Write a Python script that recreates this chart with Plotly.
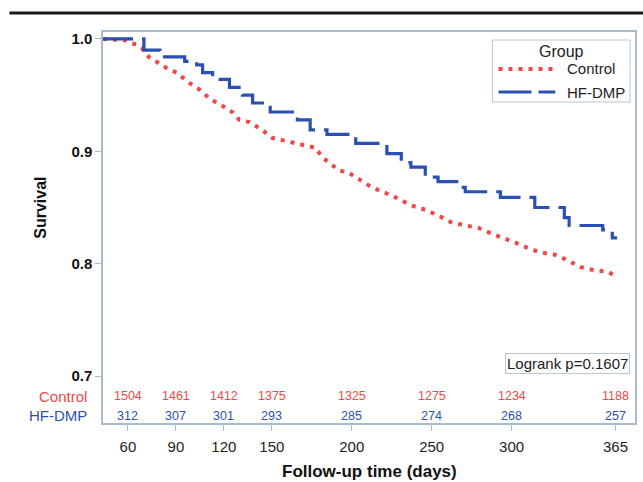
import plotly.graph_objects as go

# ---- data ----
control_days = [44.4, 58, 62.5, 65.6, 68.7, 73, 78.7, 84.3, 90.5, 97.3, 104.8, 111, 118.5, 125.3,
                129.7, 136, 144, 150.2, 156.5, 162.7, 169, 177.6, 181.3, 185.7, 192, 198, 206,
                212.5, 221, 229, 237, 246, 254, 262, 271, 279, 287, 293, 302, 310, 318, 327,
                335, 343, 352, 360, 366]
control_surv = [1.000, 0.999, 0.996, 0.995, 0.992, 0.984, 0.979, 0.974, 0.970, 0.962, 0.955, 0.947,
                0.941, 0.935, 0.928, 0.926, 0.919, 0.912, 0.910, 0.908, 0.906, 0.903, 0.895, 0.890,
                0.883, 0.881, 0.874, 0.868, 0.863, 0.858, 0.852, 0.848, 0.843, 0.837, 0.834, 0.832,
                0.827, 0.824, 0.819, 0.814, 0.810, 0.808, 0.803, 0.797, 0.794, 0.793, 0.788]

hf_days = [44.4, 70, 80, 95.5, 103, 106.7, 113, 123.5, 131.6, 138, 149, 166, 174, 184.5, 202.5,
           222, 231, 237, 246, 254, 268, 271, 293, 314.5, 333, 336, 357, 363, 366]
hf_surv = [1.000, 0.990, 0.984, 0.980, 0.977, 0.970, 0.964, 0.957, 0.950, 0.943, 0.935, 0.928,
           0.919, 0.915, 0.907, 0.898, 0.890, 0.886, 0.877, 0.873, 0.868, 0.864, 0.859, 0.850,
           0.841, 0.834, 0.830, 0.823, 0.823]

risk_days = [60, 90, 120, 150, 200, 250, 300, 365]
risk_control = [1504, 1461, 1412, 1375, 1325, 1275, 1234, 1188]
risk_hf = [312, 307, 301, 293, 285, 274, 268, 257]

y_ticks = [0.7, 0.8, 0.9, 1.0]
y_ticklabels = ["0.7", "0.8", "0.9", "1.0"]

group_names = ["Control", "HF-DMP"]

RED = "#f04848"
BLUE = "#2a50b4"
FONT = "Liberation Sans, Arial, sans-serif"
RED_DASH = "4px,6px"
BLUE_DASH = "30px,9px"
FRAME = "#a9bccb"

fig = go.Figure()
fig.add_trace(go.Scatter(x=control_days, y=control_surv, mode="lines", name=group_names[0],
                         line=dict(color=RED, width=4, dash=RED_DASH, shape="linear")))
fig.add_trace(go.Scatter(x=hf_days, y=hf_surv, mode="lines", name=group_names[1],
                         line=dict(color=BLUE, width=3.2, dash=BLUE_DASH, shape="hv")))

ann = []
for d, c, h in zip(risk_days, risk_control, risk_hf):
    ann.append(dict(x=d, y=0.682, xref="x", yref="y", text=str(c), showarrow=False,
                    font=dict(color=RED, size=12.5, family=FONT)))
    ann.append(dict(x=d, y=0.6645, xref="x", yref="y", text=str(h), showarrow=False,
                    font=dict(color=BLUE, size=12.5, family=FONT)))
ann.append(dict(x=-0.026, y=0.682, xref="paper", yref="y", text=group_names[0], showarrow=False,
                xanchor="right", font=dict(color=RED, size=15, family=FONT)))
ann.append(dict(x=-0.026, y=0.6645, xref="paper", yref="y", text=group_names[1], showarrow=False,
                xanchor="right", font=dict(color=BLUE, size=15, family=FONT)))
ann.append(dict(x=0.9906, y=0.153, xref="paper", yref="paper", text="Logrank p=0.1607",
                showarrow=False, xanchor="right", yanchor="middle",
                font=dict(color="#222", size=15, family=FONT),
                bordercolor="#b8c8d4", borderwidth=1, borderpad=1, bgcolor="white"))
ann.append(dict(x=0.5, y=-0.125, xref="paper", yref="paper", text="<b>Follow-up time (days)</b>",
                showarrow=False, xanchor="center", yanchor="middle",
                font=dict(color="#111", size=17, family=FONT)))
ann.append(dict(x=-0.118, y=0.85, xref="paper", yref="y", text="<b>Survival</b>", textangle=-90,
                showarrow=False, xanchor="center", yanchor="middle",
                font=dict(color="#111", size=16, family=FONT)))

# legend (drawn as a boxed key in the top-right corner)
ann.append(dict(x=0.861, y=0.951, xref="paper", yref="paper", text="Group", showarrow=False,
                xanchor="center", yanchor="middle", font=dict(color="#222", size=16, family=FONT)))
ann.append(dict(x=0.869, y=0.9054, xref="paper", yref="paper", text=group_names[0], showarrow=False,
                xanchor="left", yanchor="middle", font=dict(color="#222", size=15, family=FONT)))
ann.append(dict(x=0.869, y=0.8465, xref="paper", yref="paper", text=group_names[1], showarrow=False,
                xanchor="left", yanchor="middle", font=dict(color="#222", size=15, family=FONT)))

shapes = [
    dict(type="line", xref="paper", yref="paper", x0=-0.176, x1=1.02, y0=1.0486, y1=1.0486,
         line=dict(color="#1a1a1a", width=3)),
    dict(type="rect", xref="paper", yref="paper", x0=0.732, x1=0.9906, y0=0.821, y1=0.9795,
         line=dict(color="#b8c8d4", width=1), fillcolor="white", layer="above"),
    dict(type="line", xref="paper", yref="paper", x0=0.7434, x1=0.845, y0=0.9054, y1=0.9054,
         line=dict(color=RED, width=4, dash=RED_DASH)),
    dict(type="line", xref="paper", yref="paper", x0=0.7434, x1=0.8502, y0=0.8465, y1=0.8465,
         line=dict(color=BLUE, width=3.2, dash="33px,7px")),
]

fig.update_layout(
    width=643, height=482,
    margin=dict(l=103, r=6, t=32, b=59),
    paper_bgcolor="white", plot_bgcolor="white",
    font=dict(family=FONT, color="#222"),
    annotations=ann,
    shapes=shapes,
    showlegend=False,
    xaxis=dict(range=[44.4, 377.2], tickvals=risk_days, ticktext=[str(d) for d in risk_days],
               showgrid=False, zeroline=False, showline=True, mirror=True, linecolor=FRAME,
               linewidth=1.5, ticks="outside", ticklen=6, tickcolor=FRAME,
               tickfont=dict(size=15, family=FONT, color="#222"), ticklabelstandoff=3),
    yaxis=dict(range=[0.6582, 1.0062], tickvals=y_ticks, ticktext=y_ticklabels,
               showgrid=False, zeroline=False, showline=True, mirror=True, linecolor=FRAME,
               linewidth=1.5, ticks="outside", ticklen=6, tickcolor=FRAME,
               tickfont=dict(size=15, family="Liberation Sans, Arial", color="#111", weight="bold")),
)

fig.write_html("out.html", config={"displayModeBar": False},
               post_script="document.body.style.margin='0';document.body.style.overflow='hidden';")
